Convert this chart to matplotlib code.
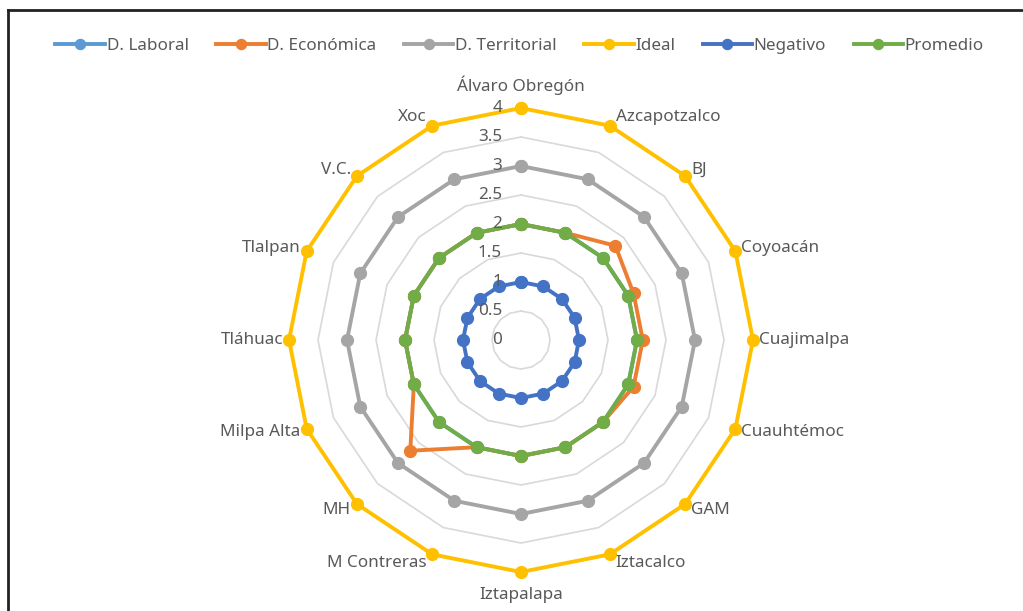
import matplotlib.pyplot as plt
import numpy as np
from matplotlib.lines import Line2D

# categorias (alcaldias) y series
alcaldias = ['Álvaro Obregón', 'Azcapotzalco', 'BJ', 'Coyoacán', 'Cuajimalpa',
             'Cuauhtémoc', 'GAM', 'Iztacalco', 'Iztapalapa', 'M Contreras',
             'MH', 'Milpa Alta', 'Tláhuac', 'Tlalpan', 'V.C.', 'Xoc']
d_laboral = [2, 2, 2, 2, 2, 2, 2, 2, 2, 2, 2, 2, 2, 2, 2, 2]
d_economica = [2, 2, 2.3, 2.1, 2.1, 2.1, 2, 2, 2, 2, 2.7, 2, 2, 2, 2, 2]
d_territorial = [3, 3, 3, 3, 3, 3, 3, 3, 3, 3, 3, 3, 3, 3, 3, 3]
ideal = [4, 4, 4, 4, 4, 4, 4, 4, 4, 4, 4, 4, 4, 4, 4, 4]
negativo = [1, 1, 1, 1, 1, 1, 1, 1, 1, 1, 1, 1, 1, 1, 1, 1]
promedio = [2, 2, 2, 2, 2, 2, 2, 2, 2, 2, 2, 2, 2, 2, 2, 2]
niveles = [0, 0.5, 1, 1.5, 2, 2.5, 3, 3.5, 4]

series = [('D. Laboral', d_laboral, '#5B9BD5'),
          ('D. Económica', d_economica, '#ED7D31'),
          ('D. Territorial', d_territorial, '#A5A5A5'),
          ('Ideal', ideal, '#FFC000'),
          ('Negativo', negativo, '#4472C4'),
          ('Promedio', promedio, '#70AD47')]

txt_color = '#595959'
fs = 12.3
plt.rcParams['font.family'] = ['Noto Sans', 'DejaVu Sans']

fig = plt.figure(figsize=(10.23, 6.11), dpi=100)
ax = fig.add_axes([0.2825, 0.0638, 0.4536, 0.7594], projection='polar')
ax.set_theta_zero_location('N')
ax.set_theta_direction(-1)

n = len(alcaldias)
theta = np.linspace(0, 2 * np.pi, n, endpoint=False)
theta_c = np.append(theta, theta[0])

# rejilla poligonal
for lv in niveles[1:]:
    ax.plot(theta_c, [lv] * (n + 1), color='#D9D9D9', lw=1.2, zorder=1)

handles = []
for i, (nombre, vals, col) in enumerate(series):
    v = np.append(vals, vals[0])
    ln, = ax.plot(theta_c, v, color=col, lw=2.8, marker='o', ms=8.5,
                  clip_on=False, zorder=3 + i, label=nombre)
    handles.append(ln)

ax.set_ylim(0, 4)
ax.grid(False)
ax.spines['polar'].set_visible(False)
ax.set_xticks([])
ax.set_yticks([])

# etiquetas del eje radial
for lv in niveles:
    ax.annotate(f'{lv:g}', xy=(0, lv), xytext=(-19, 0), textcoords='offset pixels',
                ha='right', va='center', fontsize=fs, color=txt_color, zorder=20)

# etiquetas de categorias
for t, nom in zip(theta, alcaldias):
    s, c = np.sin(t), np.cos(t)
    if abs(s) < 0.1:
        ha = 'center'
        dx, dy = 0, 23 * np.sign(c)
    else:
        ha = 'left' if s > 0 else 'right'
        dx, dy = 6 * np.sign(s), 9 * c
    ax.annotate(nom, xy=(t, 4), xytext=(dx, dy), textcoords='offset pixels',
                ha=ha, va='center', fontsize=fs, color=txt_color, zorder=20)

fig.legend(handles=handles, loc='center', bbox_to_anchor=(0.508, 0.924), ncol=6,
           frameon=False, fontsize=fs, labelcolor=txt_color, handlelength=2.9,
           handletextpad=0.1, columnspacing=1.6, markerscale=0.85)

# marco parcial
fig.add_artist(Line2D([8 / 1023, 8 / 1023], [0, 1 - 10 / 611], color='#222222', lw=2))
fig.add_artist(Line2D([8 / 1023, 1], [1 - 10 / 611, 1 - 10 / 611], color='#222222', lw=2))

fig.savefig('out.png', dpi=100)
